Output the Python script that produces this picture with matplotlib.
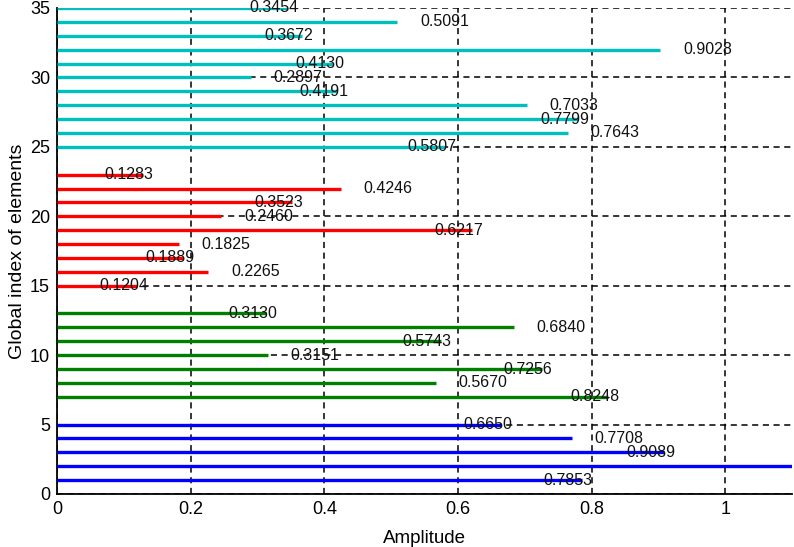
import numpy as np
import matplotlib.pyplot as plt

# amplitude of each element, grouped by sub-array
blue_idx = [1, 2, 3, 4, 5]
blue_amp = [0.7853, 1.2000, 0.9089, 0.7708, 0.6650]
green_idx = [7, 8, 9, 10, 11, 12, 13]
green_amp = [0.8248, 0.5670, 0.7256, 0.3151, 0.5743, 0.6840, 0.3130]
red_idx = [15, 16, 17, 18, 19, 20, 21, 22, 23]
red_amp = [0.1204, 0.2265, 0.1889, 0.1825, 0.6217, 0.2460, 0.3523, 0.4246, 0.1283]
cyan_idx = [25, 26, 27, 28, 29, 30, 31, 32, 33, 34, 35]
cyan_amp = [0.5807, 0.7643, 0.7799, 0.7033, 0.4191, 0.2897, 0.4130, 0.9028, 0.3672, 0.5091, 0.3454]

groups = [
    (blue_idx, blue_amp, '#0000ff'),
    (green_idx, green_amp, '#008000'),
    (red_idx, red_amp, '#ff0000'),
    (cyan_idx, cyan_amp, '#00bfbf'),
]

plt.rcParams['font.family'] = ['Liberation Sans', 'DejaVu Sans']

xmax = 1.1

fig = plt.figure(figsize=(7.94, 5.47), dpi=100)
ax = fig.add_axes([0.0718, 0.0969, 0.9257, 0.8885])

for idx, amp, col in groups:
    ax.hlines(idx, 0, amp, colors=col, linewidth=2.4, zorder=3)
    for y, a in zip(idx, amp):
        # labels alternate: odd rows sit over the line end, even rows after it
        xt = a - 0.057 if y % 2 else a + 0.034
        if xt > xmax:
            continue  # off the visible range
        ax.text(xt, y, '%.4f' % a, ha='left', va='center', fontsize=11.5,
                color='#111111', zorder=4, clip_on=False)

ax.set_xlim(0, xmax)
ax.set_ylim(0, 35)
ax.set_xticks(np.arange(0, 1.01, 0.2))
ax.set_xticklabels(['0', '0.2', '0.4', '0.6', '0.8', '1'])
ax.set_yticks(np.arange(0, 36, 5))
ax.grid(True, color='black', linestyle=(0, (4, 3)), linewidth=1.1, zorder=1)
ax.set_axisbelow(True)
ax.tick_params(length=0, labelsize=13, pad=5)

for s in ['top', 'right']:
    ax.spines[s].set_visible(False)
for s in ['left', 'bottom']:
    ax.spines[s].set_linewidth(1.3)

ax.set_xlabel('Amplitude', fontsize=13.5, labelpad=9)
ax.set_ylabel('Global index of elements', fontsize=14, labelpad=3)

fig.savefig('out.png', dpi=100)
